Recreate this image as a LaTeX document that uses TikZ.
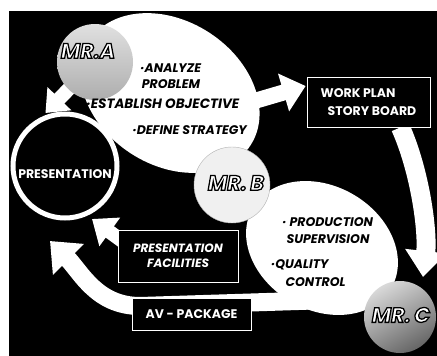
\documentclass[tikz,border=0pt]{standalone}
\usepackage{fontspec}
\setmainfont{Poppins}
\newfontfamily\mrfont{Poppins}[BoldItalicFeatures={FakeBold=6}]
\usetikzlibrary{shapes.geometric,arrows.meta}

\pgfdeclarelayer{back}
\pgfdeclarelayer{flows}
\pgfsetlayers{back,flows,main}

% white letters with a black rim
\newcommand\mrlabel[1]{{\mrfont\bfseries\itshape\special{pdf:bcolor [1] [0]}#1\special{pdf:ecolor}}}

\begin{document}
\begin{tikzpicture}[x=1pt, y=-1pt,
  bubble/.style={circle, inner sep=0pt, minimum size=76pt},
  plan/.style={ellipse, fill=white, inner sep=0pt},
  infobox/.style={draw=white, line width=0.7pt, fill=black, text=white, font=\bfseries\fontsize{12.5}{18}\selectfont, inner sep=0pt},
  bullettext/.style={font=\bfseries\itshape\fontsize{12.5}{16}\selectfont, align=center},
  mr/.style={font=\fontsize{21}{21}\selectfont},
  flow/.style={white, line width=16pt, -{Triangle[length=23pt, width=38pt]}}]

\useasboundingbox (0,0) rectangle (437,356);
\begin{pgfonlayer}{back}
  \fill (9,11) rectangle (437,356);
\end{pgfonlayer}

\node[plan, minimum width=192pt, minimum height=144pt, rotate=-33] (planA) at (170,93) {};
\node[plan, minimum width=160pt, minimum height=124pt, rotate=-30] (planB) at (322,248) {};

\node[bubble, top color=black!12, bottom color=black!32] (mrA) at (95,62) {};
\node[bubble, fill=black!6, draw=black!30] (mrB) at (232,185) {};
\node[bubble, minimum size=72pt, top color=black!15, bottom color=black!60, shading angle=30] (mrC) at (400,317) {};
\node[circle, fill=black, draw=white, line width=5pt, minimum size=104pt] (pres) at (65,166) {};

\node[infobox, minimum width=123pt, minimum height=50pt, align=left] (workplan) at (368.5,102) {WORK PLAN\\\hspace*{7pt}STORY BOARD};
\node[infobox, minimum width=120pt, minimum height=52pt, align=center, font=\bfseries\itshape\fontsize{12}{15}\selectfont] (facil) at (178,256) {PRESENTATION\\FACILITIES};
\node[infobox, minimum width=119pt, minimum height=32pt] (avpack) at (191.5,314) {AV - PACKAGE};

\begin{pgfonlayer}{flows}
  \draw[flow, line width=14pt, -{Triangle[length=20pt, width=32pt]}, shorten >=5pt] (mrA.center) -- (pres.115);
  \draw[flow] ([shift={(64,14)}]planA.center) -- ([shift={(-1,-16)}]workplan.west);
  \draw[flow, line width=19pt, -{Triangle[length=26pt, width=40pt]}] ([shift={(32,0)}]workplan.south) .. controls +(20,45) and +(5,-45) .. ([shift={(23,-40)}]mrC.center);
  \draw[flow, line width=14pt, -{Triangle[length=22pt, width=34pt]}] ([shift={(6,-14)}]facil.west) -- ([shift={(27,53)}]pres.center);
  \draw[flow, line width=18pt, -{Triangle[length=26pt, width=42pt]}] ([shift={(8,52)}]planB.center) -- ([shift={(75,140)}]pres.center) to[out=180, in=-45] ([shift={(-15,75)}]pres.center);
\end{pgfonlayer}

\node[text=white, font=\bfseries\fontsize{12.5}{13}\selectfont] (prestext) at ([shift={(0,8)}]pres.center) {PRESENTATION};

\node[mr] (mrAname) at ([shift={(-7,-11)}]mrA.center) {\mrlabel{MR.A}};
\node[mr] (mrBname) at ([shift={(4,-2)}]mrB.center) {\mrlabel{MR.\,B}};
\node[mr] (mrCname) at ([shift={(1,-2)}]mrC.center) {\mrlabel{MR.\,C}};

\node[bullettext] (analyze) at (171,76) {·ANALYZE\\PROBLEM};
\node[bullettext, font=\bfseries\itshape\fontsize{13.5}{16}\selectfont] (establish) at (163,104) {·ESTABLISH OBJECTIVE};
\node[bullettext] (strategy) at (190,130) {·DEFINE STRATEGY};
\node[bullettext, font=\bfseries\itshape\fontsize{12.5}{17}\selectfont] (production) at (328,231) {· PRODUCTION\\SUPERVISION};
\node[bullettext, font=\bfseries\itshape\fontsize{12.5}{18}\selectfont, align=left, anchor=west] (quality) at (268,273) {·QUALITY\\\hspace*{14pt}CONTROL};

\end{tikzpicture}
\end{document}
